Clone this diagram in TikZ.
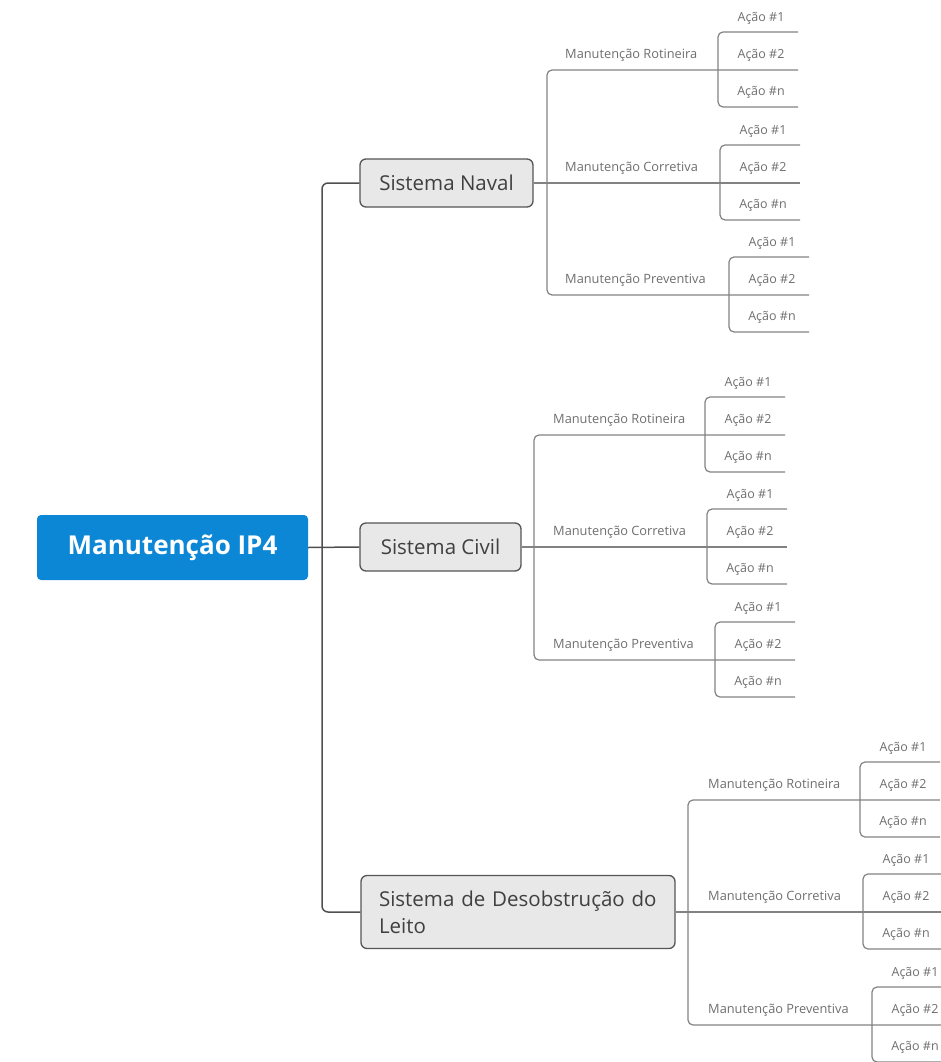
\documentclass[tikz,border=0pt]{standalone}
\usepackage{fontspec}
\setmainfont{Open Sans}
\definecolor{rootblue}{RGB}{12,135,214}
\definecolor{boxfill}{RGB}{232,232,232}
\definecolor{boxline}{RGB}{85,85,85}
\definecolor{trunkline}{RGB}{80,80,80}
\definecolor{branchline}{RGB}{130,130,130}
\definecolor{labelgray}{RGB}{110,110,110}
\newcommand\maint[4]{%
  \node[mlabel] (#1) at (\lx, #2-15) {#4};
  \coordinate (#1-t) at (#3, #2-38);
  \coordinate (#1-b) at (#3, #2+37);
  \coordinate (#1-te) at (#3+80, #2-38);
  \coordinate (#1-be) at (#3+80, #2+37);
  \coordinate (#1-me) at (#3+80, #2);
  \draw[branch] (#1-te) -- (#1-t) -- (#1-b) -- (#1-be);
  \node[alabel] (#1-a1) at (#3+43, #2-52) {Ação \#1};
  \node[alabel] (#1-a2) at (#3+43, #2-15) {Ação \#2};
  \node[alabel] (#1-an) at (#3+43, #2+22) {Ação \#n};
}
\begin{document}
\begin{tikzpicture}[x=1pt,y=-1pt,
  trunk/.style={draw=trunkline, line width=1.5pt, rounded corners=6pt},
  branch/.style={draw=branchline, line width=1.2pt, rounded corners=5pt},
  rootbox/.style={fill=rootblue, rounded corners=4pt, text=white,
    font=\bfseries\fontsize{26}{30}\selectfont, inner sep=0pt},
  sysbox/.style={draw=boxline, fill=boxfill, line width=1.3pt, rounded corners=6pt,
    inner sep=0pt, text=black!75, font=\fontsize{20.5}{27}\selectfont},
  mlabel/.style={anchor=west, text=labelgray, font=\fontsize{12.8}{15}\selectfont, inner sep=0pt},
  alabel/.style={text=labelgray, font=\fontsize{12.5}{15}\selectfont, inner sep=0pt}]
\useasboundingbox (0,0) rectangle (941,1062);

% main nodes
\node[rootbox, minimum width=271pt, minimum height=65pt] (root) at (172.5,547.5) {Manutenção IP4};
\node[sysbox, minimum width=173pt, minimum height=48pt] (naval) at (446.5,183) {Sistema Naval};
\node[sysbox, minimum width=161pt, minimum height=48pt] (civil) at (440.5,547) {Sistema Civil};
\node[sysbox, minimum height=73pt, text width=278pt, inner xsep=18pt, align=left] (desob) at (518,912)
  {\mbox{Sistema de Desobstrução do}\\Leito};

% trunk
\coordinate (tr) at (322,547);
\draw[trunk] (naval.west) -- (naval.west -| tr) -- (desob.west -| tr) -- (desob.west);
\draw[trunk] (root.east) -- (civil.west);

% Sistema Naval
\def\lx{565}
\maint{nr}{70}{718}{Manutenção Rotineira}
\maint{nc}{183}{720}{Manutenção Corretiva}
\maint{np}{295}{729}{Manutenção Preventiva}
\coordinate (nv1) at (547,70);
\coordinate (nv3) at (547,295);
\draw[branch] (nr-me) -- (nv1) -- (nv3) -- (np-me);
\draw[branch] (naval.east) -- (nc-me);

% Sistema Civil
\def\lx{553}
\maint{cr}{435}{705}{Manutenção Rotineira}
\maint{cc}{547}{707}{Manutenção Corretiva}
\maint{cp}{660}{715}{Manutenção Preventiva}
\coordinate (cv1) at (534,435);
\coordinate (cv3) at (534,660);
\draw[branch] (cr-me) -- (cv1) -- (cv3) -- (cp-me);
\draw[branch] (civil.east) -- (cc-me);

% Sistema de Desobstrucao
\def\lx{708}
\maint{dr}{800}{860}{Manutenção Rotineira}
\maint{dc}{912}{863}{Manutenção Corretiva}
\maint{dp}{1025}{872}{Manutenção Preventiva}
\coordinate (dv1) at (688,800);
\coordinate (dv3) at (688,1025);
\draw[branch] (dr-me) -- (dv1) -- (dv3) -- (dp-me);
\draw[branch] (desob.east) -- (dc-me);
\end{tikzpicture}
\end{document}
